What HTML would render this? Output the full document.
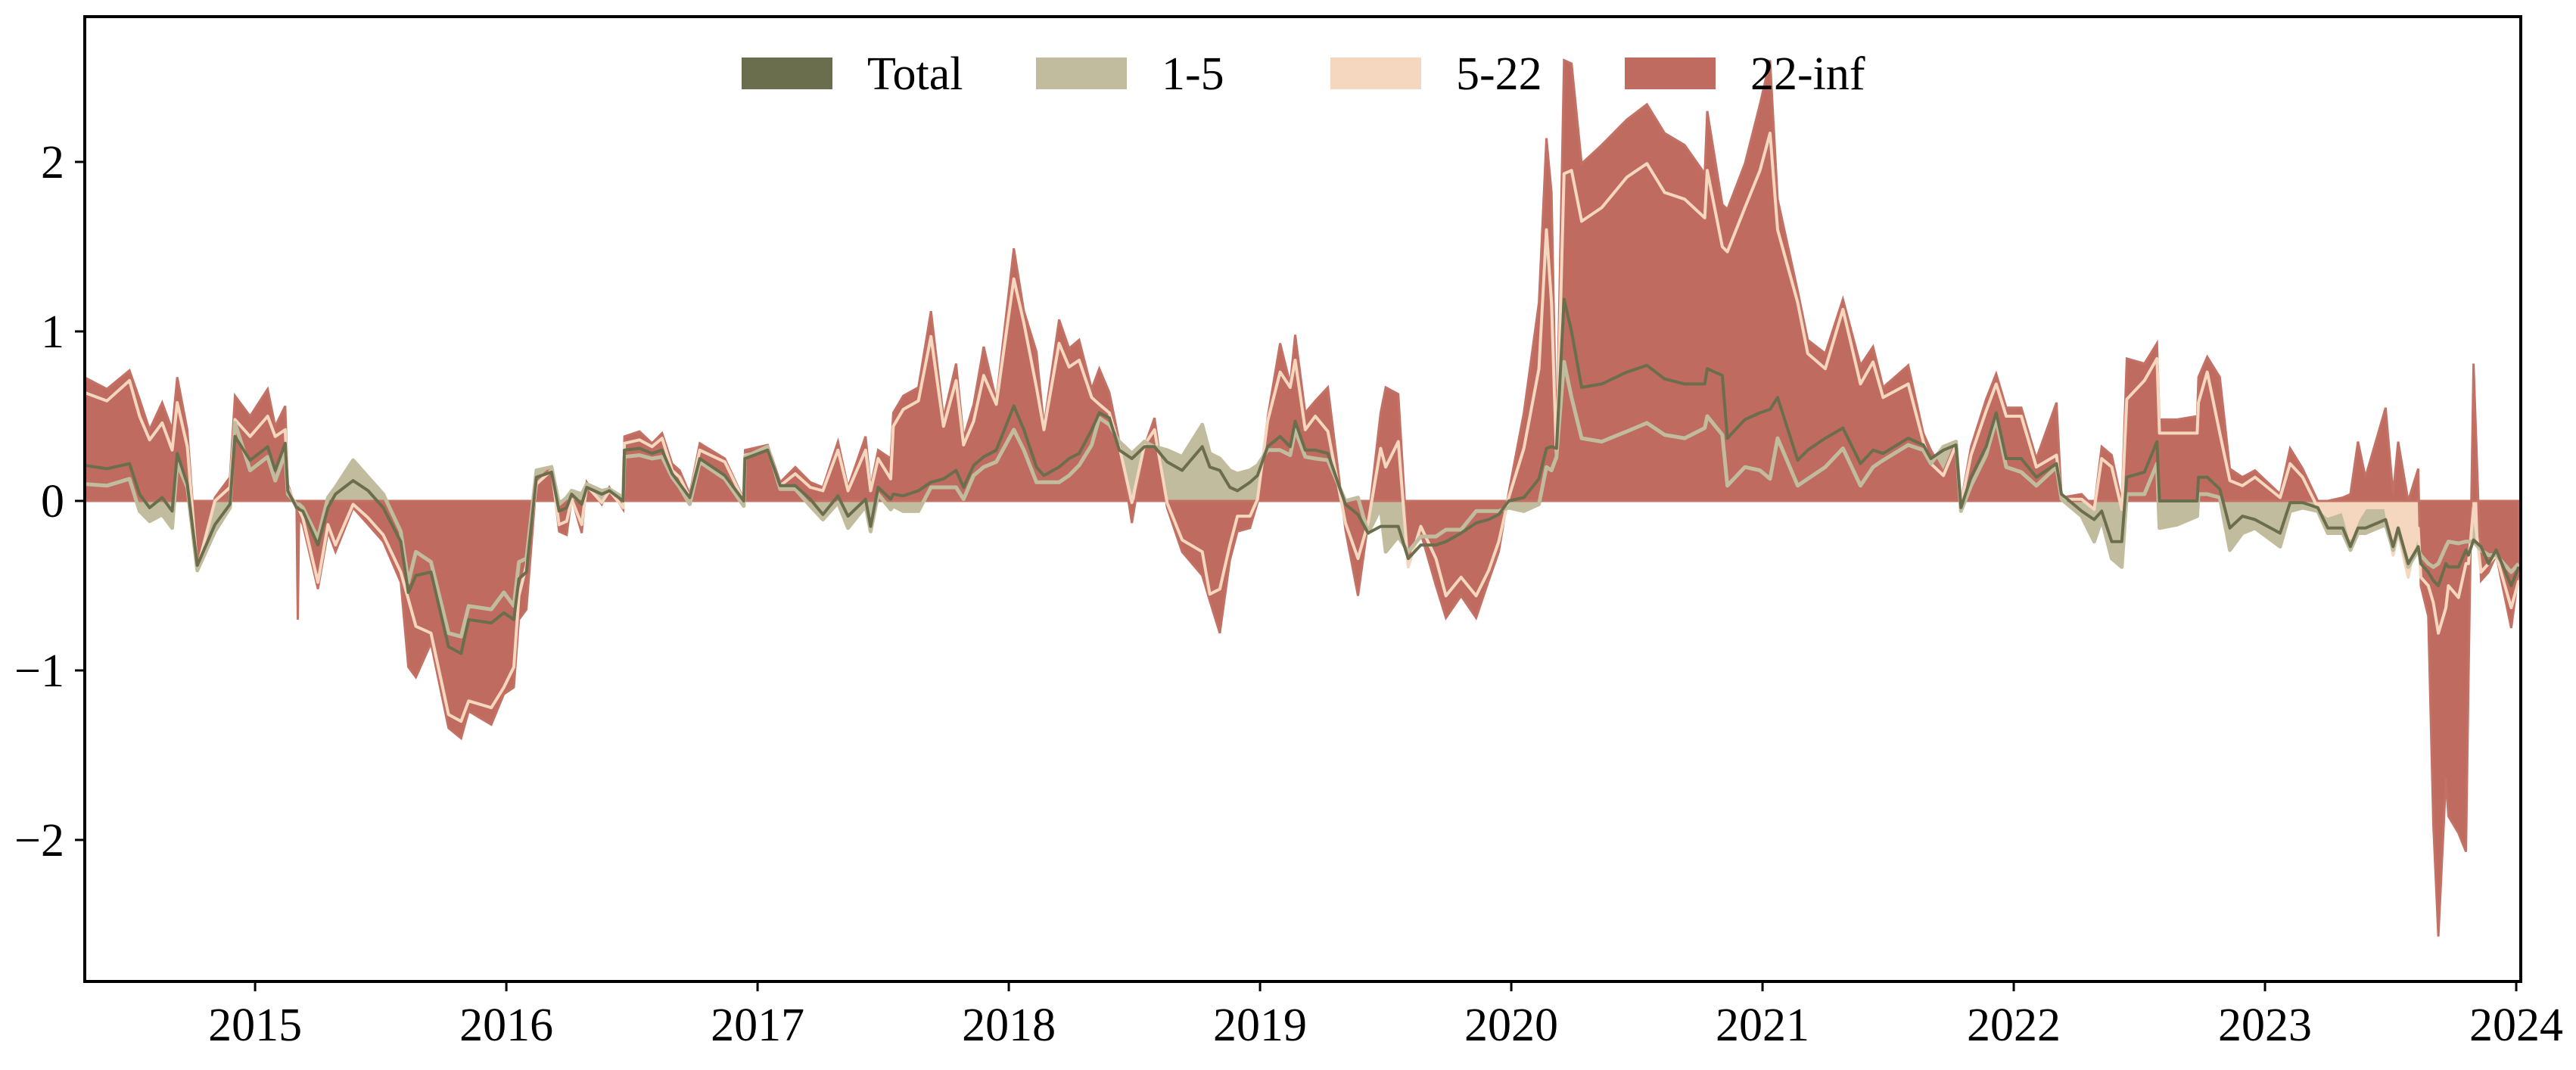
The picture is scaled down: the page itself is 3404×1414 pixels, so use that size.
<!DOCTYPE html>
<html><head><meta charset="utf-8"><style>
html,body{margin:0;padding:0;background:#fff;}
svg{display:block;font-family:"Liberation Serif",serif;}
</style></head><body>
<svg id="chart" width="3404" height="1414" viewBox="0 0 3404 1414" xmlns="http://www.w3.org/2000/svg">
<defs><clipPath id="plotclip"><rect x="112" y="22" width="3219" height="1275"/></clipPath></defs>
<rect width="3404" height="1414" fill="#fff"/>
<g id="plot" clip-path="url(#plotclip)"></g>
<g id="axes"></g>
<g id="legend"></g>
</svg>
<script>
const dates=[2014.32,2014.41,2014.50,2014.54,2014.58,2014.63,2014.67,2014.69,2014.73,2014.77,2014.84,2014.90,2014.92,2014.98,2015.05,2015.08,2015.12,2015.13,2015.165,2015.17,2015.175,2015.19,2015.25,2015.29,2015.32,2015.39,2015.45,2015.51,2015.58,2015.61,2015.64,2015.70,2015.77,2015.82,2015.85,2015.94,2015.99,2016.03,2016.05,2016.08,2016.12,2016.18,2016.21,2016.24,2016.26,2016.30,2016.32,2016.38,2016.41,2016.465,2016.47,2016.53,2016.58,2016.62,2016.66,2016.69,2016.73,2016.77,2016.87,2016.945,2016.95,2017.04,2017.09,2017.15,2017.21,2017.26,2017.32,2017.36,2017.43,2017.45,2017.48,2017.53,2017.54,2017.58,2017.64,2017.69,2017.74,2017.79,2017.82,2017.86,2017.90,2017.95,2018.02,2018.06,2018.11,2018.14,2018.20,2018.24,2018.28,2018.33,2018.36,2018.40,2018.44,2018.49,2018.54,2018.58,2018.63,2018.69,2018.77,2018.80,2018.84,2018.88,2018.91,2018.96,2018.99,2019.03,2019.08,2019.12,2019.14,2019.18,2019.22,2019.27,2019.34,2019.39,2019.43,2019.48,2019.50,2019.55,2019.59,2019.64,2019.70,2019.74,2019.80,2019.86,2019.91,2019.95,2019.99,2020.05,2020.11,2020.14,2020.16,2020.18,2020.21,2020.24,2020.28,2020.36,2020.46,2020.54,2020.61,2020.69,2020.77,2020.78,2020.84,2020.86,2020.93,2020.99,2021.03,2021.06,2021.14,2021.18,2021.25,2021.32,2021.39,2021.44,2021.48,2021.58,2021.64,2021.67,2021.72,2021.77,2021.79,2021.83,2021.89,2021.93,2021.97,2022.03,2022.09,2022.17,2022.19,2022.27,2022.32,2022.35,2022.39,2022.43,2022.45,2022.52,2022.57,2022.58,2022.65,2022.73,2022.735,2022.77,2022.82,2022.86,2022.91,2022.96,2023.06,2023.10,2023.15,2023.21,2023.25,2023.31,2023.34,2023.37,2023.40,2023.48,2023.51,2023.53,2023.57,2023.61,2023.62,2023.65,2023.67,2023.69,2023.72,2023.73,2023.77,2023.80,2023.81,2023.83,2023.86,2023.89,2023.92,2023.98,2024.01];
const red22=[0.73,0.66,0.77,0.60,0.42,0.58,0.42,0.73,0.42,-0.39,0.02,0.14,0.62,0.50,0.66,0.44,0.56,0.10,-0.05,-0.70,-0.10,-0.14,-0.52,-0.18,-0.30,-0.04,-0.14,-0.24,-0.48,-0.98,-1.04,-0.84,-1.34,-1.40,-1.24,-1.32,-1.14,-1.10,-0.70,-0.64,0.12,0.20,-0.18,-0.20,0.02,-0.19,0.11,-0.02,0.08,-0.05,0.38,0.41,0.34,0.40,0.22,0.18,0.04,0.34,0.25,0.01,0.30,0.33,0.11,0.20,0.11,0.08,0.35,0.08,0.38,0.08,0.30,0.25,0.52,0.62,0.67,1.12,0.49,0.81,0.37,0.57,0.91,0.59,1.49,1.12,0.88,0.44,1.07,0.90,0.95,0.66,0.78,0.64,0.35,-0.13,0.32,0.49,-0.04,-0.30,-0.44,-0.59,-0.78,-0.35,-0.18,-0.16,-0.01,0.49,0.93,0.69,0.98,0.52,0.59,0.67,-0.17,-0.56,-0.13,0.52,0.67,0.63,-0.34,-0.19,-0.50,-0.69,-0.56,-0.69,-0.47,-0.30,0.05,0.52,1.17,2.14,1.82,0.31,2.60,2.58,1.99,2.10,2.25,2.34,2.17,2.10,1.93,2.30,1.75,1.72,1.99,2.34,2.60,1.78,1.24,0.95,0.87,1.19,0.80,0.91,0.67,0.80,0.40,0.30,0.17,0.35,-0.01,0.32,0.60,0.75,0.55,0.55,0.25,0.58,0.02,0.04,-0.04,0.32,0.27,-0.01,0.84,0.81,0.93,0.48,0.48,0.50,0.73,0.85,0.73,0.19,0.14,0.18,0.04,0.31,0.19,0.0,0.0,0.02,0.04,0.35,0.14,0.55,0.04,0.35,0.0,0.19,-0.50,-0.68,-1.91,-2.57,-1.64,-1.86,-1.96,-2.07,-1.06,0.81,-0.47,-0.42,-0.32,-0.75,-0.42];
const peach522=[0.64,0.59,0.71,0.50,0.36,0.46,0.30,0.58,0.32,-0.40,0.0,0.08,0.48,0.38,0.50,0.38,0.42,0.08,-0.04,-0.04,-0.05,-0.10,-0.48,-0.14,-0.26,-0.02,-0.10,-0.20,-0.42,-0.58,-0.74,-0.78,-1.26,-1.30,-1.18,-1.22,-1.10,-0.98,-0.56,-0.38,0.10,0.18,-0.14,-0.12,0.01,-0.14,0.09,-0.01,0.06,-0.04,0.34,0.36,0.32,0.37,0.18,0.14,0.02,0.30,0.23,0.0,0.27,0.30,0.09,0.16,0.08,0.06,0.30,0.06,0.30,0.06,0.25,0.13,0.44,0.54,0.59,0.97,0.44,0.71,0.33,0.47,0.74,0.57,1.31,1.05,0.67,0.42,0.93,0.79,0.83,0.61,0.57,0.52,0.32,-0.01,0.33,0.42,-0.01,-0.23,-0.30,-0.55,-0.52,-0.26,-0.09,-0.09,0.01,0.47,0.76,0.67,0.83,0.42,0.50,0.41,-0.13,-0.34,-0.13,0.31,0.20,0.35,-0.39,-0.15,-0.34,-0.56,-0.45,-0.56,-0.41,-0.24,0.02,0.31,0.78,1.60,1.17,0.25,1.93,1.95,1.65,1.73,1.91,1.99,1.82,1.78,1.67,1.95,1.50,1.47,1.73,1.95,2.17,1.60,1.17,0.87,0.78,1.13,0.69,0.82,0.61,0.69,0.35,0.22,0.15,0.33,-0.02,0.27,0.53,0.69,0.50,0.50,0.20,0.27,0.01,0.01,-0.05,0.25,0.20,-0.05,0.60,0.71,0.84,0.40,0.40,0.40,0.58,0.76,0.40,0.12,0.09,0.14,0.02,0.22,0.14,-0.04,-0.09,-0.06,-0.22,-0.11,-0.04,-0.04,-0.32,-0.19,-0.45,-0.16,-0.45,-0.50,-0.60,-0.78,-0.63,-0.50,-0.57,-0.37,-0.37,-0.04,-0.42,-0.37,-0.32,-0.63,-0.47];
const beige15=[0.10,0.09,0.13,-0.06,-0.12,-0.08,-0.16,0.22,0.08,-0.41,-0.18,-0.04,0.46,0.18,0.26,0.12,0.28,0.04,-0.02,-0.02,-0.02,-0.04,-0.22,0.02,0.08,0.24,0.14,0.04,-0.18,-0.48,-0.30,-0.36,-0.78,-0.80,-0.62,-0.64,-0.54,-0.62,-0.36,-0.34,0.18,0.20,-0.02,0.02,0.06,0.04,0.10,0.06,0.07,0.02,0.26,0.27,0.25,0.26,0.14,0.08,-0.02,0.23,0.13,-0.03,0.26,0.32,0.07,0.07,-0.03,-0.11,-0.01,-0.16,-0.03,-0.18,0.04,-0.05,-0.03,-0.06,-0.06,0.08,0.08,0.08,0.01,0.15,0.20,0.23,0.42,0.30,0.11,0.11,0.11,0.15,0.21,0.33,0.49,0.45,0.35,0.28,0.35,0.32,0.30,0.26,0.45,0.28,0.25,0.18,0.16,0.18,0.21,0.30,0.30,0.27,0.42,0.26,0.25,0.24,0.0,0.02,-0.19,-0.04,-0.30,-0.21,-0.30,-0.21,-0.21,-0.17,-0.17,-0.06,-0.06,-0.06,-0.04,-0.06,-0.02,0.20,0.18,0.26,0.82,0.61,0.37,0.35,0.41,0.46,0.39,0.37,0.43,0.50,0.39,0.09,0.20,0.18,0.13,0.37,0.09,0.13,0.20,0.31,0.09,0.20,0.24,0.33,0.30,0.22,0.32,0.35,-0.06,0.09,0.27,0.48,0.20,0.17,0.09,0.20,0.01,-0.09,-0.24,-0.11,-0.34,-0.39,0.04,0.04,0.22,-0.16,-0.14,-0.09,0.04,0.04,0.02,-0.29,-0.19,-0.16,-0.27,-0.06,-0.04,-0.06,-0.19,-0.19,-0.29,-0.19,-0.19,-0.14,-0.29,-0.16,-0.39,-0.29,-0.32,-0.37,-0.39,-0.37,-0.27,-0.24,-0.25,-0.24,-0.24,-0.24,-0.29,-0.32,-0.32,-0.42,-0.37];
const total=[0.21,0.19,0.22,0.04,-0.04,0.02,-0.06,0.28,0.10,-0.38,-0.14,-0.02,0.38,0.24,0.32,0.18,0.34,0.06,-0.04,-0.04,-0.05,-0.06,-0.26,-0.04,0.04,0.12,0.06,-0.04,-0.24,-0.54,-0.44,-0.42,-0.86,-0.90,-0.70,-0.72,-0.66,-0.70,-0.46,-0.42,0.14,0.17,-0.06,-0.04,0.04,-0.02,0.08,0.04,0.06,0.0,0.30,0.31,0.28,0.30,0.16,0.10,0.02,0.25,0.15,0.0,0.25,0.30,0.09,0.09,0.01,-0.08,0.03,-0.09,0.01,-0.15,0.08,0.01,0.04,0.03,0.06,0.11,0.13,0.18,0.08,0.21,0.26,0.30,0.56,0.42,0.20,0.15,0.20,0.25,0.28,0.42,0.52,0.49,0.30,0.25,0.32,0.32,0.23,0.18,0.32,0.20,0.18,0.08,0.06,0.11,0.15,0.32,0.38,0.32,0.47,0.30,0.30,0.28,-0.02,-0.08,-0.19,-0.15,-0.15,-0.15,-0.34,-0.26,-0.26,-0.24,-0.19,-0.13,-0.11,-0.08,0.0,0.02,0.13,0.31,0.32,0.31,1.19,1.00,0.67,0.69,0.76,0.80,0.72,0.69,0.69,0.78,0.74,0.37,0.48,0.52,0.54,0.61,0.24,0.30,0.37,0.43,0.22,0.30,0.28,0.37,0.33,0.25,0.30,0.33,-0.04,0.14,0.32,0.52,0.25,0.25,0.14,0.22,0.04,-0.06,-0.11,-0.06,-0.24,-0.24,0.14,0.17,0.35,0.0,0.0,0.0,0.14,0.14,0.07,-0.16,-0.09,-0.11,-0.19,-0.01,-0.01,-0.04,-0.16,-0.16,-0.27,-0.16,-0.16,-0.11,-0.27,-0.16,-0.37,-0.27,-0.37,-0.42,-0.47,-0.50,-0.37,-0.39,-0.39,-0.29,-0.32,-0.23,-0.27,-0.37,-0.29,-0.50,-0.39];
const yTicks=[-2,-1,0,1,2];
const yTickLabels=["\u22122","\u22121","0","1","2"];
const xTicks=[2015,2016,2017,2018,2019,2020,2021,2022,2023,2024];
const legendLabels=["Total","1-5","5-22","22-inf"];

const NS="http://www.w3.org/2000/svg";
const L=112,R=3331,T=22,B=1297;
const xMin=2014.322,xMax=2024.018,yMin=-2.835,yMax=2.857;
const X=v=>L+(v-xMin)/(xMax-xMin)*(R-L);
const Y=v=>B-(v-yMin)/(yMax-yMin)*(B-T);
function mk(tag,attrs,parent){const e=document.createElementNS(NS,tag);for(const k in attrs)e.setAttribute(k,attrs[k]);parent.appendChild(e);return e;}
const plot=document.getElementById('plot');
function areaPath(vals){let d=`M${X(dates[0])},${Y(0)}`;vals.forEach((v,i)=>{d+=`L${X(dates[i]).toFixed(1)},${Y(v).toFixed(1)}`;});d+=`L${X(dates[dates.length-1])},${Y(0)}Z`;return d;}
function linePath(vals){return vals.map((v,i)=>(i?'L':'M')+X(dates[i]).toFixed(1)+','+Y(v).toFixed(1)).join('');}
const cBeige="#c2bc9e",cPeach="#f5d7c0",cRed="#bf6b5f",cOlive="#6b6e4c";
let e;
e=mk('path',{d:areaPath(beige15),fill:cBeige},plot);


e=mk('path',{d:areaPath(peach522),fill:cPeach},plot);


e=mk('path',{d:areaPath(red22),fill:cRed,stroke:"#c47165","stroke-width":3},plot);


e=mk('path',{d:linePath(peach522),fill:"none",stroke:cPeach,"stroke-width":4,"stroke-linejoin":"round"},plot);


e=mk('path',{d:linePath(beige15),fill:"none",stroke:cBeige,"stroke-width":5,"stroke-linejoin":"round"},plot);


e=mk('path',{d:linePath(total),fill:"none",stroke:cOlive,"stroke-width":4,"stroke-linejoin":"round"},plot);



const axes=document.getElementById('axes');
e=mk('rect',{x:L,y:T,width:R-L,height:B-T,fill:"none",stroke:"#000","stroke-width":4},axes);


yTicks.forEach((v,i)=>{
  const t=mk('line',{x1:L-13,x2:L,y1:Y(v),y2:Y(v),stroke:"#000","stroke-width":3},axes);
  
  
  const tx=mk('text',{x:L-27,y:Y(v)+21,"text-anchor":"end","font-size":62,fill:"#000"},axes);
  tx.textContent=yTickLabels[i];
  
  
});
xTicks.forEach(v=>{
  const t=mk('line',{x1:X(v),x2:X(v),y1:B,y2:B+13,stroke:"#000","stroke-width":3},axes);
  
  
  const tx=mk('text',{x:X(v),y:1375,"text-anchor":"middle","font-size":62,fill:"#000"},axes);
  tx.textContent=String(v);
  
  
});
const leg=document.getElementById('legend');
const legColors=[cOlive,cBeige,cPeach,cRed];
legendLabels.forEach((lab,i)=>{
  const x0=980+i*389;
  const r=mk('rect',{x:x0,y:76,width:120,height:42,fill:legColors[i]},leg);
  
  
  const tx=mk('text',{x:x0+166,y:118,"font-size":62,fill:"#000"},leg);
  tx.textContent=lab;
  
  
});
</script>
</body></html>
